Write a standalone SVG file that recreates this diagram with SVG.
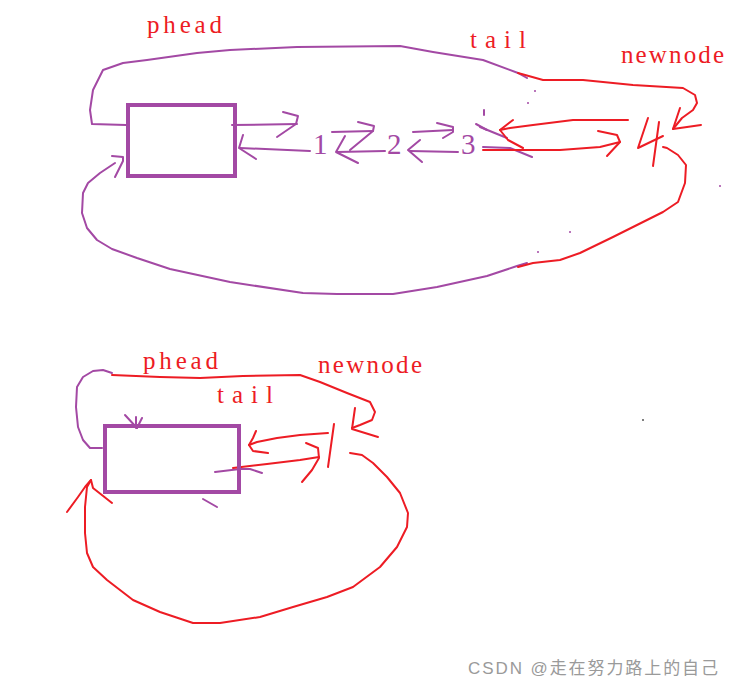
<svg xmlns="http://www.w3.org/2000/svg" width="733" height="687" viewBox="0 0 733 687">
<style>
.p{fill:none;stroke:#a349a4;stroke-width:2;stroke-linejoin:round;stroke-linecap:round}
.r{fill:none;stroke:#ed1c24;stroke-width:2;stroke-linejoin:round;stroke-linecap:round}
.box{fill:none;stroke:#a349a4;stroke-width:4}
.lbl{font-family:"Liberation Serif",serif;font-size:25px;fill:#ed1c24}
.num{font-family:"Liberation Serif",serif;font-size:29px;fill:#a349a4}
.wm{font-family:"Liberation Sans","Noto Sans CJK SC",sans-serif;font-size:17px;fill:#9a9a9a}
</style>
<rect width="733" height="687" fill="#fff"/>

<g id="connectors">
  <!-- top: phead loop to tail then newnode -->
  <polyline class="p" points="126,125 92,124 90,110 93,90 103,70 123,63 147,60 197,53 230,50 297,47 400,46 433,52 483,60 518,73 527,78"/>
  <polyline class="r" points="518,73 543,80 583,80 633,85 683,88 695,95 697,103 693,110 682,118 673,129"/>
  <polyline class="r" points="680,108 673,129 701,125"/>
  <!-- rect <-> 1 -->
  <polyline class="p" points="232,125 297,124"/>
  <polyline class="p" points="283,112 298,116 296,124 277,137"/>
  <polyline class="p" points="310,151 240,148"/>
  <polyline class="p" points="243,135 239,148 256,159"/>
  <!-- 1 <-> 2 -->
  <polyline class="p" points="332,132 373,131"/>
  <polyline class="p" points="358,122 374,126 373,131 350,150"/>
  <polyline class="p" points="385,151 337,152"/>
  <polyline class="p" points="345,136 336,152 358,163"/>
  <!-- 2 <-> 3 -->
  <polyline class="p" points="413,132 453,130"/>
  <polyline class="p" points="437,123 453,127 453,132 443,138"/>
  <polyline class="p" points="458,152 410,151"/>
  <polyline class="p" points="420,140 408,150 422,162"/>
  <!-- purple marks near 3 -->
  <polyline class="p" points="484,110 484,115"/>
  <polyline class="p" points="476,124 487,130"/>
  <polyline class="p" points="480,127 507,138"/>
  <polyline class="p" points="483,147 510,148 532,157"/>
  <circle cx="535" cy="91" r="1" fill="#a349a4"/>
  <circle cx="528" cy="103" r="1" fill="#a349a4"/>
  <circle cx="720" cy="186" r="1" fill="#a349a4"/>
  <circle cx="570" cy="232" r="1" fill="#a349a4"/>
  <circle cx="538" cy="252" r="1" fill="#a349a4"/>
  <!-- 4 -> 3 -->
  <polyline class="r" points="628,120 573,120 533,125 510,128 500,130"/>
  <polyline class="r" points="513,120 500,130 508,140 523,148"/>
  <!-- 3 -> 4 -->
  <polyline class="r" points="483,150 560,150 600,147 620,142"/>
  <polyline class="r" points="598,131 617,135 620,142 607,156"/>
  <!-- bottom loop top section -->
  <polyline class="p" points="115,163 100,173 88,183 83,193 82,213 87,228 97,240 112,249 137,258 170,269 230,282 303,293 337,294 393,294 437,287 487,276 517,266 527,263"/>
  <polyline class="p" points="112,156 123,157 123,161 115,177"/>
  <polyline class="r" points="518,267 533,263 560,260 580,253 613,237 633,227 663,212 678,202 685,183 686,165 678,155 667,148 663,147"/>

  <!-- bottom section -->
  <polyline class="p" points="102,448 90,448 83,440 78,427 76,407 77,387 83,377 93,371 103,370 112,373"/>
  <polyline class="r" points="112,375 160,377 200,378 243,376 300,375 320,382 347,393 370,402 375,412 372,420 360,425 352,428"/>
  <polyline class="r" points="355,408 352,429 378,437"/>
  <polyline class="p" points="125,415 137,428"/>
  <polyline class="p" points="142,418 137,428"/>
  <polyline class="p" points="136,417 136,428"/>
  <!-- 1 -> rect -->
  <polyline class="r" points="328,433 300,435 277,438 257,442 249,445"/>
  <polyline class="r" points="256,431 253,438 249,445 253,451 268,453"/>
  <!-- rect -> 1 -->
  <polyline class="p" points="215,472 240,469 250,469 262,473"/>
  <polyline class="r" points="233,468 267,464 300,460 319,457"/>
  <polyline class="r" points="306,443 318,448 319,458 312,470 302,482"/>
  <polyline class="p" points="203,499 217,507"/>
  <!-- big red loop -->
  <polyline class="r" points="350,453 362,455 373,463 387,477 400,493 408,513 407,527 397,547 380,567 353,587 327,597 293,607 260,617 220,623 193,623 160,612 133,600 107,580 93,567 87,553 85,533 85,507 87,487 91,480"/>
  <polyline class="r" points="67,512 78,497 85,487 91,480 93,488 112,503"/>
  <circle cx="643" cy="420" r="1" fill="#555"/>
</g>

<g id="node-phead-top">
  <rect class="box" x="128" y="105" width="107" height="71"/>
  <text class="lbl" x="147" y="33" textLength="75" lengthAdjust="spacing">phead</text>
</g>
<g id="node-1"><text class="num" x="313" y="154">1</text></g>
<g id="node-2"><text class="num" x="387" y="154">2</text></g>
<g id="node-3"><text class="num" x="461" y="154">3</text></g>
<g id="node-tail-top"><text class="lbl" x="470" y="48" textLength="56" lengthAdjust="spacing">tail</text></g>
<g id="node-4">
  <text class="lbl" x="621" y="63" textLength="103" lengthAdjust="spacing">newnode</text>
  <polyline class="r" points="648,118 638,148 663,136"/>
  <polyline class="r" points="659,122 653,166"/>
</g>

<g id="node-phead-bottom">
  <rect class="box" x="105" y="426" width="134" height="66"/>
  <text class="lbl" x="143" y="369" textLength="75" lengthAdjust="spacing">phead</text>
  <text class="lbl" x="217" y="403" textLength="56" lengthAdjust="spacing">tail</text>
</g>
<g id="node-newnode-bottom">
  <text class="lbl" x="318" y="373" textLength="104" lengthAdjust="spacing">newnode</text>
  <polyline class="r" points="334,424 328,467"/>
</g>

<text class="wm" x="468" y="674" textLength="250" lengthAdjust="spacing">CSDN @走在努力路上的自己</text>
</svg>
